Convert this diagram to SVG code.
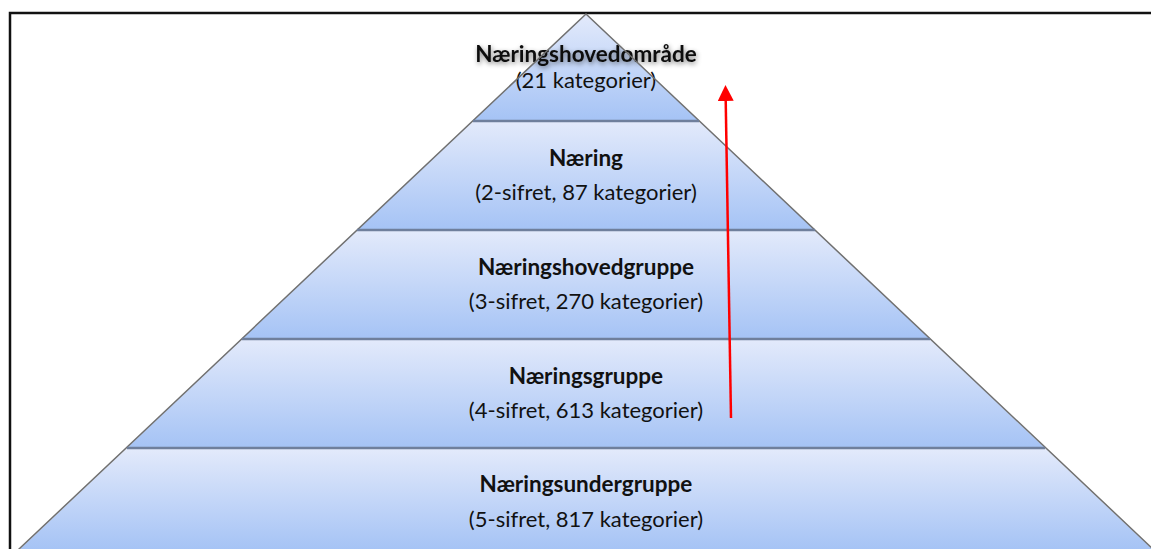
<svg xmlns="http://www.w3.org/2000/svg" width="1151" height="549" viewBox="0 0 1151 549">
<style>
.t{font-family:Lato,"Open Sans","Liberation Sans",sans-serif;font-size:22px;fill:#111;text-anchor:middle}
.b{font-weight:bold;font-size:22.5px}
.tier{stroke:none}
.sep{stroke:#6f7f9c;stroke-width:2.5}
.edge{stroke:#707070;stroke-width:1.5;fill:none}
</style>
<defs>
<linearGradient id="g" x1="0" y1="0" x2="0" y2="1">
<stop offset="0" stop-color="#e3eafb"/>
<stop offset="1" stop-color="#a5c3f5"/>
</linearGradient>
<filter id="glow" x="-20%" y="-50%" width="140%" height="200%">
<feGaussianBlur in="SourceAlpha" stdDeviation="2.5"/>
<feOffset dx="1" dy="2"/>
<feComponentTransfer><feFuncA type="linear" slope="0.5"/></feComponentTransfer>
<feMerge><feMergeNode/><feMergeNode in="SourceGraphic"/></feMerge>
</filter>
<marker id="ah" viewBox="0 0 16 16" refX="1" refY="8" markerWidth="16" markerHeight="16" markerUnits="userSpaceOnUse" orient="auto">
<path d="M0,0 L16,8 L0,16 Z" fill="#ff0000"/>
</marker>
</defs>
<rect width="1151" height="549" fill="#fff"/>
<path d="M10,549 V13 H1151" fill="none" stroke="#111" stroke-width="2.5"/>
<g id="tier1">
<path class="tier" d="M586,14 L699,121 L473,121 Z" fill="url(#g)"/>
<text class="t b" x="586" y="62" filter="url(#glow)">Næringshovedområde</text>
<text class="t" x="586" y="88">(21 kategorier)</text>
</g>
<g id="tier2">
<path class="tier" d="M473,121 L699,121 L815,230 L357,230 Z" fill="url(#g)"/>
<text class="t b" x="586" y="166">Næring</text>
<text class="t" x="586" y="200">(2-sifret, 87 kategorier)</text>
</g>
<g id="tier3">
<path class="tier" d="M357,230 L815,230 L930,339 L242,339 Z" fill="url(#g)"/>
<text class="t b" x="586" y="275">Næringshovedgruppe</text>
<text class="t" x="586" y="309">(3-sifret, 270 kategorier)</text>
</g>
<g id="tier4">
<path class="tier" d="M242,339 L930,339 L1045,448 L127,448 Z" fill="url(#g)"/>
<text class="t b" x="586" y="384">Næringsgruppe</text>
<text class="t" x="586" y="418">(4-sifret, 613 kategorier)</text>
</g>
<g id="tier5">
<path class="tier" d="M127,448 L1045,448 L1153,550 L19,550 Z" fill="url(#g)"/>
<text class="t b" x="586" y="492">Næringsundergruppe</text>
<text class="t" x="586" y="527">(5-sifret, 817 kategorier)</text>
</g>
<g id="outline">
<path class="edge" d="M18,550 L586,14 L1154,550"/>
<line class="sep" x1="473" y1="121" x2="699" y2="121"/>
<line class="sep" x1="357" y1="230" x2="815" y2="230"/>
<line class="sep" x1="242" y1="339" x2="930" y2="339"/>
<line class="sep" x1="127" y1="448" x2="1045" y2="448"/>
</g>
<g id="connectors">
<line x1="731" y1="418" x2="725.7" y2="100" stroke="#ff0000" stroke-width="2.5" marker-end="url(#ah)"/>
</g>
</svg>
